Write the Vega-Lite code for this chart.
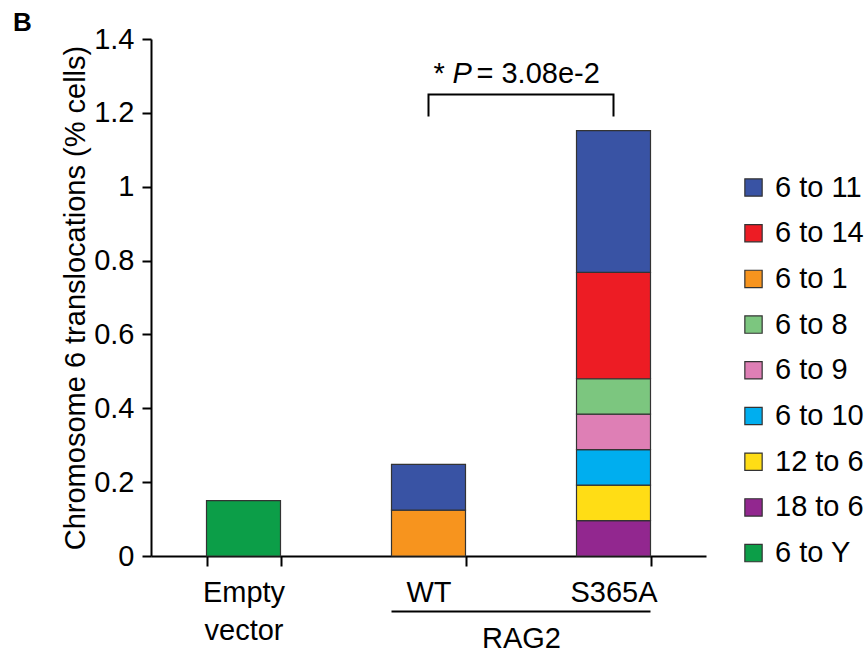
{
  "$schema": "https://vega.github.io/schema/vega-lite/v6.json",
  "width": 555,
  "height": 517,
  "autosize": {"type": "none"},
  "padding": {"left": 151, "top": 39, "right": 160, "bottom": 93},
  "background": "#ffffff",
  "config": {
    "view": {"stroke": null},
    "font": "Liberation Sans",
    "axis": {"grid": false, "labelFont": "Liberation Sans", "titleFont": "Liberation Sans"},
    "legend": {"labelFont": "Liberation Sans"}
  },
  "title": {
    "text": "B",
    "anchor": "start",
    "frame": "group",
    "dx": -138,
    "dy": 32,
    "offset": 0,
    "fontSize": 26,
    "fontWeight": "bold",
    "font": "Liberation Sans",
    "color": "#000000",
    "baseline": "alphabetic"
  },
  "datasets": {
    "bars": [
      {"group": "Empty vector", "translocation": "6 to Y", "value": 0.150},
      {"group": "WT", "translocation": "6 to 1", "value": 0.124},
      {"group": "WT", "translocation": "6 to 11", "value": 0.124},
      {"group": "S365A", "translocation": "18 to 6", "value": 0.096},
      {"group": "S365A", "translocation": "12 to 6", "value": 0.096},
      {"group": "S365A", "translocation": "6 to 10", "value": 0.096},
      {"group": "S365A", "translocation": "6 to 9", "value": 0.096},
      {"group": "S365A", "translocation": "6 to 8", "value": 0.096},
      {"group": "S365A", "translocation": "6 to 14", "value": 0.288},
      {"group": "S365A", "translocation": "6 to 11", "value": 0.384}
    ],
    "bracket": [
      {"group": "WT", "level": 1.19, "step": 0},
      {"group": "WT", "level": 1.25, "step": 1},
      {"group": "S365A", "level": 1.25, "step": 2},
      {"group": "S365A", "level": 1.19, "step": 3}
    ],
    "underline": [
      {"from": "WT", "to": "S365A"}
    ]
  },
  "layer": [
    {
      "data": {"name": "bars"},
      "transform": [
        {"calculate": "indexof(['6 to Y','18 to 6','12 to 6','6 to 10','6 to 9','6 to 8','6 to 1','6 to 14','6 to 11'], datum.translocation)", "as": "stackOrder"}
      ],
      "mark": {"type": "bar", "stroke": "#333333", "strokeWidth": 1.2},
      "encoding": {
        "x": {
          "field": "group",
          "type": "nominal",
          "scale": {"domain": ["Empty vector", "WT", "S365A"], "paddingInner": 0.6, "paddingOuter": 0.3},
          "axis": {
            "title": "RAG2",
            "titleFontSize": 29,
            "titleFontWeight": "normal",
            "titleColor": "#000000",
            "titleX": 370,
            "titleY": 91,
            "titleBaseline": "alphabetic",
            "titleAlign": "center",
            "labelFontSize": 29,
            "labelColor": "#000000",
            "labelAngle": 0,
            "labelBaseline": "top",
            "labelPadding": 12,
            "labelLineHeight": 38,
            "labelExpr": "datum.label == 'Empty vector' ? ['Empty', 'vector'] : datum.label",
            "tickBand": "extent",
            "tickSize": 10,
            "tickWidth": 2,
            "tickColor": "#000000",
            "domainWidth": 2,
            "domainColor": "#000000"
          }
        },
        "y": {
          "field": "value",
          "type": "quantitative",
          "stack": "zero",
          "scale": {"domain": [0, 1.4], "nice": false},
          "axis": {
            "title": "Chromosome 6 translocations (% cells)",
            "values": [0, 0.2, 0.4, 0.6, 0.8, 1, 1.2, 1.4],
            "format": "~g",
            "titleFontSize": 29,
            "titleFontWeight": "normal",
            "titleColor": "#000000",
            "titleX": -76,
            "titleY": 258.5,
            "titleAngle": 270,
            "titleAlign": "center",
            "titleBaseline": "middle",
            "labelFontSize": 29,
            "labelColor": "#000000",
            "labelPadding": 8,
            "tickSize": 9,
            "tickWidth": 2,
            "tickColor": "#000000",
            "domainWidth": 2,
            "domainColor": "#000000"
          }
        },
        "color": {
          "field": "translocation",
          "type": "nominal",
          "scale": {
            "domain": ["6 to 11", "6 to 14", "6 to 1", "6 to 8", "6 to 9", "6 to 10", "12 to 6", "18 to 6", "6 to Y"],
            "range": ["#3953a4", "#ed1c24", "#f7941e", "#7cc67f", "#de7fb5", "#00aeef", "#ffdd15", "#92278f", "#0c9e48"]
          },
          "legend": {
            "title": null,
            "orient": "none",
            "legendX": 588,
            "legendY": 134,
            "labelFontSize": 29,
            "labelColor": "#000000",
            "labelLimit": 300,
            "labelOffset": 7,
            "symbolType": "square",
            "symbolSize": 300,
            "symbolStrokeColor": "#333333",
            "symbolStrokeWidth": 1.2,
            "rowPadding": 15.7
          }
        },
        "order": {"field": "stackOrder", "type": "quantitative"}
      }
    },
    {
      "data": {"name": "bracket"},
      "mark": {"type": "line", "color": "#000000", "strokeWidth": 2},
      "encoding": {
        "x": {"field": "group", "type": "nominal", "scale": {"domain": ["Empty vector", "WT", "S365A"]}},
        "y": {"field": "level", "type": "quantitative"},
        "order": {"field": "step", "type": "quantitative"}
      }
    },
    {
      "data": {"name": "underline"},
      "mark": {"type": "rule", "color": "#000000", "strokeWidth": 2},
      "encoding": {
        "x": {"field": "from", "type": "nominal", "bandPosition": 0, "scale": {"domain": ["Empty vector", "WT", "S365A"]}},
        "x2": {"field": "to", "bandPosition": 1},
        "y": {"datum": -0.1503}
      }
    },
    {
      "data": {"values": [{"group": "WT"}]},
      "mark": {"type": "text", "text": "*", "align": "left", "baseline": "alphabetic", "dx": 5, "fontSize": 29, "font": "Liberation Sans", "color": "#000000"},
      "encoding": {
        "x": {"field": "group", "type": "nominal", "scale": {"domain": ["Empty vector", "WT", "S365A"]}},
        "y": {"datum": 1.28}
      }
    },
    {
      "data": {"values": [{"group": "WT"}]},
      "mark": {"type": "text", "text": "P", "align": "left", "baseline": "alphabetic", "dx": 24, "fontSize": 29, "fontStyle": "italic", "font": "Liberation Sans", "color": "#000000"},
      "encoding": {
        "x": {"field": "group", "type": "nominal", "scale": {"domain": ["Empty vector", "WT", "S365A"]}},
        "y": {"datum": 1.28}
      }
    },
    {
      "data": {"values": [{"group": "WT"}]},
      "mark": {"type": "text", "text": "= 3.08e-2", "align": "left", "baseline": "alphabetic", "dx": 48, "fontSize": 29, "font": "Liberation Sans", "color": "#000000"},
      "encoding": {
        "x": {"field": "group", "type": "nominal", "scale": {"domain": ["Empty vector", "WT", "S365A"]}},
        "y": {"datum": 1.28}
      }
    }
  ]
}
